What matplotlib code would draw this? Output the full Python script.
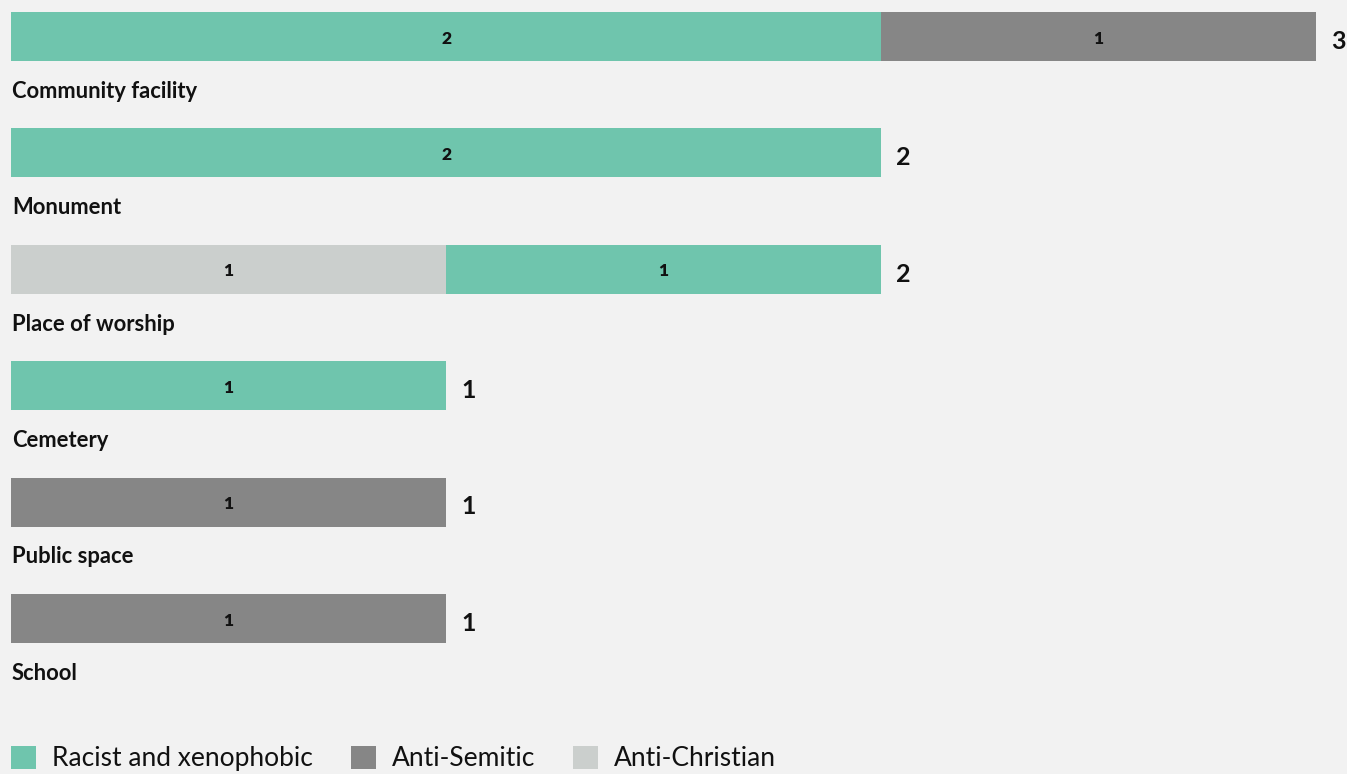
"""Vandalism incidents by target site, stacked by bias motivation."""
import matplotlib.pyplot as plt
import numpy as np
from matplotlib.patches import Patch

BG = "#f2f2f2"

categories = ["Community facility", "Monument", "Place of worship",
              "Cemetery", "Public space", "School"]
# stacking order left -> right
series_names = ["Anti-Christian", "Racist and xenophobic", "Anti-Semitic"]
anti_christian = [0, 0, 1, 0, 0, 0]
racist = [2, 2, 1, 1, 0, 0]
anti_semitic = [1, 0, 0, 0, 1, 1]
legend_order = ["Racist and xenophobic", "Anti-Semitic", "Anti-Christian"]

COLORS = {
    "Racist and xenophobic": "#6fc5ad",
    "Anti-Semitic": "#868686",
    "Anti-Christian": "#cbcfcd",
}

plt.rcParams.update({"font.family": ["Lato", "DejaVu Sans"]})

W, H = 1347, 774
fig = plt.figure(figsize=(W / 100, H / 100), dpi=100, facecolor=BG)
ax = fig.add_axes([11 / W, 0, 1305 / W, 1])
ax.set_facecolor(BG)
ax.axis("off")

pitch = 116.4
ax.set_xlim(0, 3)
ax.set_ylim((H - 36.5) / pitch, -36.5 / pitch)

y = np.arange(len(categories))
left = np.zeros(len(categories))
for name, vals in zip(series_names, [anti_christian, racist, anti_semitic]):
    vals = np.array(vals, dtype=float)
    bars = ax.barh(y, vals, left=left, height=49 / pitch,
                   color=COLORS[name], linewidth=0)
    for rect, v in zip(bars, vals):
        if v > 0:
            ax.annotate(f"{v:g}", (rect.get_x() + rect.get_width() / 2, rect.get_y() + rect.get_height() / 2),
                        xytext=(0, -1.5), textcoords="offset points",
                        ha="center", va="center", fontsize=12.5,
                        fontweight="heavy", color="#111111")
    left += vals

for yi, tot, cat in zip(y, left, categories):
    ax.annotate(f"{tot:g}", (tot, yi), xytext=(11, -3.5), textcoords="offset points",
                ha="left", va="center", fontsize=18, fontweight="bold",
                color="#111111", annotation_clip=False)
    ax.text(0.002, yi + 0.47, cat, ha="left", va="center", fontsize=15.8,
            fontweight="bold", color="#111111")

handles = [Patch(facecolor=COLORS[n], edgecolor="none") for n in legend_order]
fig.legend(handles, legend_order, loc="upper left",
           bbox_to_anchor=(11 / W, 1 - 746 / H), ncol=3, frameon=False,
           prop={"size": 19}, handlelength=0.95,
           handleheight=0.95, handletextpad=0.6, columnspacing=1.44,
           borderpad=0, borderaxespad=0, labelcolor="#111111")

fig.savefig("out.png", dpi=100, facecolor=BG)
